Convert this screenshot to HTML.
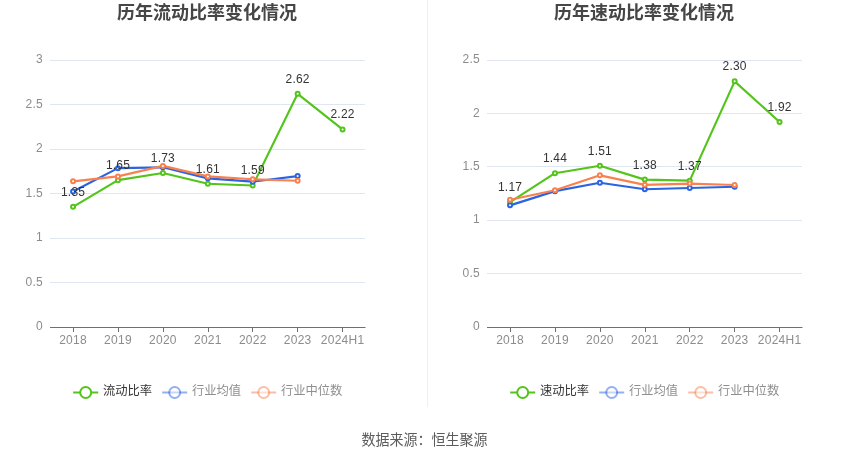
<!DOCTYPE html>
<html lang="zh-CN">
<head>
<meta charset="utf-8">
<title>历年流动比率与速动比率变化情况</title>
<style>
html,body{margin:0;padding:0;background:#fff;}
body{width:850px;height:459px;overflow:hidden;font-family:"Liberation Sans",sans-serif;}
svg{display:block;will-change:transform;}
svg text{font-family:"Liberation Sans",sans-serif;font-size:12px;}
svg text.a{letter-spacing:.25px;}
svg text.v{letter-spacing:.2px;}
</style>
</head>
<body>
<svg width="850" height="459" viewBox="0 0 850 459">
<rect x="0" y="0" width="850" height="459" fill="#fff"/>
<line x1="427.5" x2="427.5" y1="0" y2="407" stroke="#f0f0f0" stroke-width="1"/>
<g id="chart-left">
<text x="117" y="19.3" font-weight="700" fill="#464646" textLength="180" lengthAdjust="spacingAndGlyphs" style="font-family:'Liberation Sans','Noto Sans CJK SC',sans-serif;font-size:18.4px;">历年流动比率变化情况</text>
<line x1="50" x2="365" y1="60.5" y2="60.5" stroke="#e0e6f1" stroke-width="1"/>
<line x1="50" x2="365" y1="104.5" y2="104.5" stroke="#e0e6f1" stroke-width="1"/>
<line x1="50" x2="365" y1="149.5" y2="149.5" stroke="#e0e6f1" stroke-width="1"/>
<line x1="50" x2="365" y1="193.5" y2="193.5" stroke="#e0e6f1" stroke-width="1"/>
<line x1="50" x2="365" y1="238.5" y2="238.5" stroke="#e0e6f1" stroke-width="1"/>
<line x1="50" x2="365" y1="282.5" y2="282.5" stroke="#e0e6f1" stroke-width="1"/>
<text class="a" x="43" y="330.2" text-anchor="end" fill="#8c8c8c">0</text>
<text class="a" x="43" y="285.7" text-anchor="end" fill="#8c8c8c">0.5</text>
<text class="a" x="43" y="241.2" text-anchor="end" fill="#8c8c8c">1</text>
<text class="a" x="43" y="196.7" text-anchor="end" fill="#8c8c8c">1.5</text>
<text class="a" x="43" y="152.2" text-anchor="end" fill="#8c8c8c">2</text>
<text class="a" x="43" y="107.7" text-anchor="end" fill="#8c8c8c">2.5</text>
<text class="a" x="43" y="63.2" text-anchor="end" fill="#8c8c8c">3</text>
<line x1="50" x2="365.5" y1="327.5" y2="327.5" stroke="#6e7079" stroke-width="1"/>
<line x1="73.5" x2="73.5" y1="327" y2="332" stroke="#6e7079" stroke-width="1"/>
<text class="a" x="73.05" y="343.8" text-anchor="middle" fill="#8c8c8c">2018</text>
<line x1="118.5" x2="118.5" y1="327" y2="332" stroke="#6e7079" stroke-width="1"/>
<text class="a" x="117.97" y="343.8" text-anchor="middle" fill="#8c8c8c">2019</text>
<line x1="163.5" x2="163.5" y1="327" y2="332" stroke="#6e7079" stroke-width="1"/>
<text class="a" x="162.89" y="343.8" text-anchor="middle" fill="#8c8c8c">2020</text>
<line x1="208.5" x2="208.5" y1="327" y2="332" stroke="#6e7079" stroke-width="1"/>
<text class="a" x="207.81" y="343.8" text-anchor="middle" fill="#8c8c8c">2021</text>
<line x1="252.5" x2="252.5" y1="327" y2="332" stroke="#6e7079" stroke-width="1"/>
<text class="a" x="252.73" y="343.8" text-anchor="middle" fill="#8c8c8c">2022</text>
<line x1="297.5" x2="297.5" y1="327" y2="332" stroke="#6e7079" stroke-width="1"/>
<text class="a" x="297.65" y="343.8" text-anchor="middle" fill="#8c8c8c">2023</text>
<line x1="342.5" x2="342.5" y1="327" y2="332" stroke="#6e7079" stroke-width="1"/>
<text class="a" x="342.57" y="343.8" text-anchor="middle" fill="#8c8c8c">2024H1</text>
<polyline points="73.05,206.85 117.97,180.15 162.89,173.03 207.81,183.71 252.73,185.49 297.65,93.82 342.57,129.42" fill="none" stroke="#52c41a" stroke-width="2.15" stroke-linejoin="bevel"/>
<polyline points="73.05,191.54 117.97,168.14 162.89,167.33 207.81,178.37 252.73,181.66 297.65,176.06" fill="none" stroke="#2b64e2" stroke-width="2.15" stroke-linejoin="bevel"/>
<polyline points="73.05,181.31 117.97,176.41 162.89,165.91 207.81,176.41 252.73,179.26 297.65,180.77" fill="none" stroke="#f9814e" stroke-width="2.15" stroke-linejoin="bevel"/>
<circle cx="73.05" cy="206.85" r="2" fill="#fff" stroke="#52c41a" stroke-width="2"/>
<circle cx="117.97" cy="180.15" r="2" fill="#fff" stroke="#52c41a" stroke-width="2"/>
<circle cx="162.89" cy="173.03" r="2" fill="#fff" stroke="#52c41a" stroke-width="2"/>
<circle cx="207.81" cy="183.71" r="2" fill="#fff" stroke="#52c41a" stroke-width="2"/>
<circle cx="252.73" cy="185.49" r="2" fill="#fff" stroke="#52c41a" stroke-width="2"/>
<circle cx="297.65" cy="93.82" r="2" fill="#fff" stroke="#52c41a" stroke-width="2"/>
<circle cx="342.57" cy="129.42" r="2" fill="#fff" stroke="#52c41a" stroke-width="2"/>
<circle cx="73.05" cy="191.54" r="2" fill="#fff" stroke="#2b64e2" stroke-width="2"/>
<circle cx="117.97" cy="168.14" r="2" fill="#fff" stroke="#2b64e2" stroke-width="2"/>
<circle cx="162.89" cy="167.33" r="2" fill="#fff" stroke="#2b64e2" stroke-width="2"/>
<circle cx="207.81" cy="178.37" r="2" fill="#fff" stroke="#2b64e2" stroke-width="2"/>
<circle cx="252.73" cy="181.66" r="2" fill="#fff" stroke="#2b64e2" stroke-width="2"/>
<circle cx="297.65" cy="176.06" r="2" fill="#fff" stroke="#2b64e2" stroke-width="2"/>
<circle cx="73.05" cy="181.31" r="2" fill="#fff" stroke="#f9814e" stroke-width="2"/>
<circle cx="117.97" cy="176.41" r="2" fill="#fff" stroke="#f9814e" stroke-width="2"/>
<circle cx="162.89" cy="165.91" r="2" fill="#fff" stroke="#f9814e" stroke-width="2"/>
<circle cx="207.81" cy="176.41" r="2" fill="#fff" stroke="#f9814e" stroke-width="2"/>
<circle cx="252.73" cy="179.26" r="2" fill="#fff" stroke="#f9814e" stroke-width="2"/>
<circle cx="297.65" cy="180.77" r="2" fill="#fff" stroke="#f9814e" stroke-width="2"/>
<text class="v" x="73.05" y="195.85" text-anchor="middle" fill="#333">1.35</text>
<text class="v" x="117.97" y="169.15" text-anchor="middle" fill="#333">1.65</text>
<text class="v" x="162.89" y="162.03" text-anchor="middle" fill="#333">1.73</text>
<text class="v" x="207.81" y="172.71" text-anchor="middle" fill="#333">1.61</text>
<text class="v" x="252.73" y="174.49" text-anchor="middle" fill="#333">1.59</text>
<text class="v" x="297.65" y="82.82" text-anchor="middle" fill="#333">2.62</text>
<text class="v" x="342.57" y="118.42" text-anchor="middle" fill="#333">2.22</text>
<g><line x1="73.2" x2="98.2" y1="392.5" y2="392.5" stroke="#52c41a" stroke-width="2"/></g><g><circle cx="85.7" cy="392.5" r="5.5" fill="#fff" stroke="#52c41a" stroke-width="2"/></g>
<text x="102.9" y="395" font-weight="400" fill="#333" textLength="49.2" lengthAdjust="spacingAndGlyphs" style="font-family:'Liberation Sans','Noto Sans CJK SC',sans-serif;font-size:12.3px;">流动比率</text>
<g opacity="0.5"><line x1="162.2" x2="187.2" y1="392.5" y2="392.5" stroke="#2b64e2" stroke-width="2"/></g><g opacity="0.5"><circle cx="174.7" cy="392.5" r="5.5" fill="#fff" stroke="#2b64e2" stroke-width="2"/></g>
<text x="191.9" y="395" font-weight="400" fill="#8f8f8f" textLength="49.2" lengthAdjust="spacingAndGlyphs" style="font-family:'Liberation Sans','Noto Sans CJK SC',sans-serif;font-size:12.3px;">行业均值</text>
<g opacity="0.5"><line x1="251.2" x2="276.2" y1="392.5" y2="392.5" stroke="#f9814e" stroke-width="2"/></g><g opacity="0.5"><circle cx="263.7" cy="392.5" r="5.5" fill="#fff" stroke="#f9814e" stroke-width="2"/></g>
<text x="280.9" y="395" font-weight="400" fill="#8f8f8f" textLength="61.5" lengthAdjust="spacingAndGlyphs" style="font-family:'Liberation Sans','Noto Sans CJK SC',sans-serif;font-size:12.3px;">行业中位数</text>
</g>
<g id="chart-right">
<text x="554" y="19.3" font-weight="700" fill="#464646" textLength="180" lengthAdjust="spacingAndGlyphs" style="font-family:'Liberation Sans','Noto Sans CJK SC',sans-serif;font-size:18.4px;">历年速动比率变化情况</text>
<line x1="487" x2="802" y1="60.5" y2="60.5" stroke="#e0e6f1" stroke-width="1"/>
<line x1="487" x2="802" y1="113.5" y2="113.5" stroke="#e0e6f1" stroke-width="1"/>
<line x1="487" x2="802" y1="166.5" y2="166.5" stroke="#e0e6f1" stroke-width="1"/>
<line x1="487" x2="802" y1="220.5" y2="220.5" stroke="#e0e6f1" stroke-width="1"/>
<line x1="487" x2="802" y1="273.5" y2="273.5" stroke="#e0e6f1" stroke-width="1"/>
<text class="a" x="480" y="330.2" text-anchor="end" fill="#8c8c8c">0</text>
<text class="a" x="480" y="276.8" text-anchor="end" fill="#8c8c8c">0.5</text>
<text class="a" x="480" y="223.4" text-anchor="end" fill="#8c8c8c">1</text>
<text class="a" x="480" y="170" text-anchor="end" fill="#8c8c8c">1.5</text>
<text class="a" x="480" y="116.6" text-anchor="end" fill="#8c8c8c">2</text>
<text class="a" x="480" y="63.2" text-anchor="end" fill="#8c8c8c">2.5</text>
<line x1="487" x2="802.5" y1="327.5" y2="327.5" stroke="#6e7079" stroke-width="1"/>
<line x1="510.5" x2="510.5" y1="327" y2="332" stroke="#6e7079" stroke-width="1"/>
<text class="a" x="510.05" y="343.8" text-anchor="middle" fill="#8c8c8c">2018</text>
<line x1="555.5" x2="555.5" y1="327" y2="332" stroke="#6e7079" stroke-width="1"/>
<text class="a" x="554.97" y="343.8" text-anchor="middle" fill="#8c8c8c">2019</text>
<line x1="600.5" x2="600.5" y1="327" y2="332" stroke="#6e7079" stroke-width="1"/>
<text class="a" x="599.89" y="343.8" text-anchor="middle" fill="#8c8c8c">2020</text>
<line x1="645.5" x2="645.5" y1="327" y2="332" stroke="#6e7079" stroke-width="1"/>
<text class="a" x="644.81" y="343.8" text-anchor="middle" fill="#8c8c8c">2021</text>
<line x1="689.5" x2="689.5" y1="327" y2="332" stroke="#6e7079" stroke-width="1"/>
<text class="a" x="689.73" y="343.8" text-anchor="middle" fill="#8c8c8c">2022</text>
<line x1="734.5" x2="734.5" y1="327" y2="332" stroke="#6e7079" stroke-width="1"/>
<text class="a" x="734.65" y="343.8" text-anchor="middle" fill="#8c8c8c">2023</text>
<line x1="779.5" x2="779.5" y1="327" y2="332" stroke="#6e7079" stroke-width="1"/>
<text class="a" x="779.57" y="343.8" text-anchor="middle" fill="#8c8c8c">2024H1</text>
<polyline points="510.05,202.04 554.97,173.21 599.89,165.73 644.81,179.62 689.73,180.68 734.65,81.36 779.57,121.94" fill="none" stroke="#52c41a" stroke-width="2.15" stroke-linejoin="bevel"/>
<polyline points="510.05,205.35 554.97,191.15 599.89,182.71 644.81,189.23 689.73,187.95 734.65,186.77" fill="none" stroke="#2b64e2" stroke-width="2.15" stroke-linejoin="bevel"/>
<polyline points="510.05,199.8 554.97,190.19 599.89,175.34 644.81,184.85 689.73,183.57 734.65,184.96" fill="none" stroke="#f9814e" stroke-width="2.15" stroke-linejoin="bevel"/>
<circle cx="510.05" cy="202.04" r="2" fill="#fff" stroke="#52c41a" stroke-width="2"/>
<circle cx="554.97" cy="173.21" r="2" fill="#fff" stroke="#52c41a" stroke-width="2"/>
<circle cx="599.89" cy="165.73" r="2" fill="#fff" stroke="#52c41a" stroke-width="2"/>
<circle cx="644.81" cy="179.62" r="2" fill="#fff" stroke="#52c41a" stroke-width="2"/>
<circle cx="689.73" cy="180.68" r="2" fill="#fff" stroke="#52c41a" stroke-width="2"/>
<circle cx="734.65" cy="81.36" r="2" fill="#fff" stroke="#52c41a" stroke-width="2"/>
<circle cx="779.57" cy="121.94" r="2" fill="#fff" stroke="#52c41a" stroke-width="2"/>
<circle cx="510.05" cy="205.35" r="2" fill="#fff" stroke="#2b64e2" stroke-width="2"/>
<circle cx="554.97" cy="191.15" r="2" fill="#fff" stroke="#2b64e2" stroke-width="2"/>
<circle cx="599.89" cy="182.71" r="2" fill="#fff" stroke="#2b64e2" stroke-width="2"/>
<circle cx="644.81" cy="189.23" r="2" fill="#fff" stroke="#2b64e2" stroke-width="2"/>
<circle cx="689.73" cy="187.95" r="2" fill="#fff" stroke="#2b64e2" stroke-width="2"/>
<circle cx="734.65" cy="186.77" r="2" fill="#fff" stroke="#2b64e2" stroke-width="2"/>
<circle cx="510.05" cy="199.8" r="2" fill="#fff" stroke="#f9814e" stroke-width="2"/>
<circle cx="554.97" cy="190.19" r="2" fill="#fff" stroke="#f9814e" stroke-width="2"/>
<circle cx="599.89" cy="175.34" r="2" fill="#fff" stroke="#f9814e" stroke-width="2"/>
<circle cx="644.81" cy="184.85" r="2" fill="#fff" stroke="#f9814e" stroke-width="2"/>
<circle cx="689.73" cy="183.57" r="2" fill="#fff" stroke="#f9814e" stroke-width="2"/>
<circle cx="734.65" cy="184.96" r="2" fill="#fff" stroke="#f9814e" stroke-width="2"/>
<text class="v" x="510.05" y="191.04" text-anchor="middle" fill="#333">1.17</text>
<text class="v" x="554.97" y="162.21" text-anchor="middle" fill="#333">1.44</text>
<text class="v" x="599.89" y="154.73" text-anchor="middle" fill="#333">1.51</text>
<text class="v" x="644.81" y="168.62" text-anchor="middle" fill="#333">1.38</text>
<text class="v" x="689.73" y="169.68" text-anchor="middle" fill="#333">1.37</text>
<text class="v" x="734.65" y="70.36" text-anchor="middle" fill="#333">2.30</text>
<text class="v" x="779.57" y="110.94" text-anchor="middle" fill="#333">1.92</text>
<g><line x1="510.2" x2="535.2" y1="392.5" y2="392.5" stroke="#52c41a" stroke-width="2"/></g><g><circle cx="522.7" cy="392.5" r="5.5" fill="#fff" stroke="#52c41a" stroke-width="2"/></g>
<text x="539.9" y="395" font-weight="400" fill="#333" textLength="49.2" lengthAdjust="spacingAndGlyphs" style="font-family:'Liberation Sans','Noto Sans CJK SC',sans-serif;font-size:12.3px;">速动比率</text>
<g opacity="0.5"><line x1="599.2" x2="624.2" y1="392.5" y2="392.5" stroke="#2b64e2" stroke-width="2"/></g><g opacity="0.5"><circle cx="611.7" cy="392.5" r="5.5" fill="#fff" stroke="#2b64e2" stroke-width="2"/></g>
<text x="628.9" y="395" font-weight="400" fill="#8f8f8f" textLength="49.2" lengthAdjust="spacingAndGlyphs" style="font-family:'Liberation Sans','Noto Sans CJK SC',sans-serif;font-size:12.3px;">行业均值</text>
<g opacity="0.5"><line x1="688.2" x2="713.2" y1="392.5" y2="392.5" stroke="#f9814e" stroke-width="2"/></g><g opacity="0.5"><circle cx="700.7" cy="392.5" r="5.5" fill="#fff" stroke="#f9814e" stroke-width="2"/></g>
<text x="717.9" y="395" font-weight="400" fill="#8f8f8f" textLength="61.5" lengthAdjust="spacingAndGlyphs" style="font-family:'Liberation Sans','Noto Sans CJK SC',sans-serif;font-size:12.3px;">行业中位数</text>
</g>
<g id="source">
<text x="361.6" y="444.8" font-weight="400" fill="#5c5c5c" textLength="126" lengthAdjust="spacingAndGlyphs" style="font-family:'Liberation Sans','Noto Sans CJK SC',sans-serif;font-size:14.5px;">数据来源：恒生聚源</text>
</g>
</svg>
</body>
</html>
